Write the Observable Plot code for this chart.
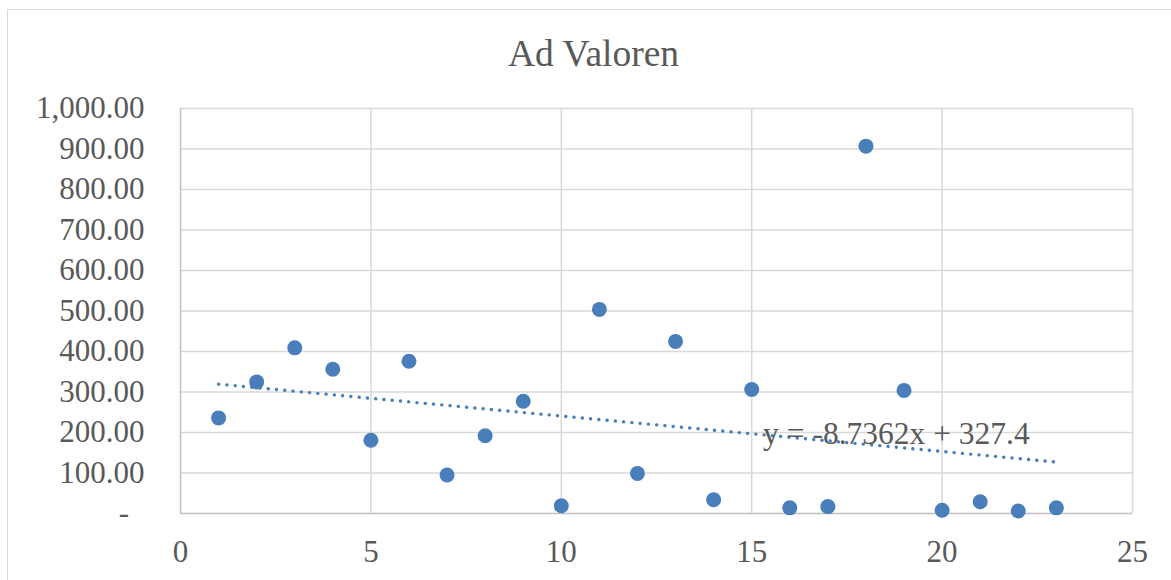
<!DOCTYPE html>
<html><head><meta charset="utf-8">
<script src="https://cdn.jsdelivr.net/npm/d3@7"></script>
<script src="https://cdn.jsdelivr.net/npm/@observablehq/plot@0.6"></script>
<style>
body{margin:0;background:#fff;}
#wrap{position:relative;width:1171px;height:580px;overflow:hidden;font-family:"Liberation Serif","Times New Roman",serif;}
#border{position:absolute;left:7px;top:9px;width:1180px;height:600px;border:1.5px solid #d9d9d9;box-sizing:border-box;}
#title{position:absolute;left:0;top:35px;width:1187px;text-align:center;font-size:37.5px;line-height:37px;color:#595959;}
#chart{position:absolute;left:0;top:0;}
</style></head>
<body>
<div id="wrap"><div id="border"></div><div id="title">Ad Valoren</div><div id="chart"></div></div>
<script>
const xs = [1,2,3,4,5,6,7,8,9,10,11,12,13,14,15,16,17,18,19,20,21,22,23];
const values = [236,325,409,356,181,376,95,192,277,19,504,99,425,34,306,14,17,907,304,8,29,6,14];
const yTicks = [0,100,200,300,400,500,600,700,800,900,1000];
const xTicks = [0,5,10,15,20,25];
const trendSlope = -8.7362, trendIntercept = 327.4;
const trendLabel = "y = -8.7362x + 327.4";

const data = xs.map((x,i)=>({x, y: values[i]}));
const fmt = d3.format(",.2f");
const color = "#4a7ebb";
const textColor = "#595959";

const chart = Plot.plot({
  width: 1171, height: 580,
  marginLeft: 180, marginRight: 39, marginTop: 108, marginBottom: 67,
  style: {fontFamily: '"Liberation Serif","Times New Roman",serif', fontSize: "31px", color: textColor, background: "transparent"},
  x: {domain: [0,25]},
  y: {domain: [0,1000]},
  marks: [
    Plot.gridX(xTicks.filter(d=>d>0), {stroke:"#d9d9d9", strokeOpacity:1, strokeWidth:1.5}),
    Plot.gridY(yTicks.filter(d=>d>0), {stroke:"#d9d9d9", strokeOpacity:1, strokeWidth:1.5}),
    Plot.ruleX([0], {stroke:"#bfbfbf", strokeWidth:1.5}),
    Plot.ruleY([0], {stroke:"#bfbfbf", strokeWidth:1.5}),
    Plot.axisY(yTicks, {tickSize:0, tickPadding:36, label:null, fill:textColor, fontSize:31,
      tickFormat: d => d===0 ? "-\u2007" : fmt(d)}),
    Plot.axisX(xTicks, {tickSize:0, tickPadding:26, label:null, fill:textColor, fontSize:31}),
    Plot.linearRegressionY(data, {x:"x", y:"y", ci:0, stroke:color, strokeWidth:3.4,
      strokeDasharray:"0.1 8.2", strokeLinecap:"round"}),
    Plot.dot(data, {x:"x", y:"y", r:7.5, fill:color, stroke:"none"}),
    Plot.text([trendLabel], {x: 15.3, y: trendIntercept + trendSlope*15.3, text: d=>d, textAnchor:"start",
      lineAnchor:"middle", dy: -1, fill: textColor, fontSize: 31.5})
  ]
});
document.getElementById("chart").appendChild(chart);
</script>
</body></html>
